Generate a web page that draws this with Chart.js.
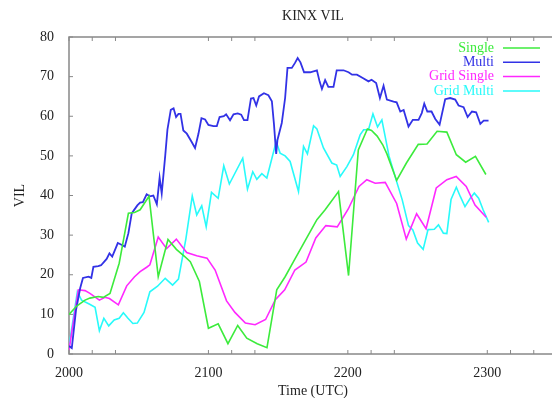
<!DOCTYPE html>
<html>
<head>
<meta charset="utf-8">
<script src="https://cdn.jsdelivr.net/npm/chart.js@4/dist/chart.umd.min.js"></script>
<style>
  body { margin: 0; overflow: hidden; background: #fff; }
</style>
</head>
<body>
<canvas id="vilChart" width="557" height="398"></canvas>
<script>
// time axis (hours as decimal, 2000 = 20:00 UTC)
const xTicks = [2000, 2016.67, 2033.33, 2100, 2116.67, 2133.33, 2200, 2216.67, 2233.33, 2300, 2316.67, 2333.33];

const singleX = [2000, 2005.5, 2011.5, 2015, 2021, 2024.6, 2029.4, 2036, 2042.6, 2047, 2051, 2057.4, 2064, 2071, 2077, 2083, 2087, 2093.5,
  2100, 2107, 2114, 2121, 2127.5, 2135, 2142, 2149, 2155, 2161, 2167, 2173, 2177.8, 2183.7, 2193.3,
  2200.5, 2207.5, 2214, 2217, 2221, 2225, 2228, 2235, 2242, 2250.5, 2256.8, 2264, 2271, 2277.8, 2284.5, 2291.5, 2299];
const singleY = [10, 12.1, 13.6, 14.1, 14.5, 14.3, 15.3, 22.9, 35.5, 35.7, 36.4, 39.8, 19.5, 28.9, 26.4, 24.6, 23.3, 18.3,
  6.5, 7.6, 2.6, 7.2, 4, 2.6, 1.6, 16.2, 19.5, 23.3, 27.1, 30.9, 33.9, 36.4, 41,
  19.8, 51.5, 56.8, 56.4, 55, 52.8, 50.5, 43.8, 48.2, 52.9, 53, 56.2, 56, 50.3, 48.4, 49.9, 45.3];

const multiX = [2000, 2002, 2005, 2008, 2010, 2014, 2016, 2017.5, 2021, 2023, 2027, 2029, 2031, 2033, 2035, 2038, 2040, 2042.6,
  2045, 2047, 2049, 2051, 2053, 2055.7, 2058, 2060.5, 2063, 2065, 2066.5, 2069, 2070.6, 2073, 2075, 2076.8, 2078.5, 2080,
  2082, 2084.5, 2088, 2090.4, 2092.8, 2095, 2097.6, 2100, 2103.6, 2106, 2108, 2111, 2112.7, 2115.5, 2118, 2121, 2123.5,
  2125.5, 2128, 2130.5, 2132.3, 2134.3, 2136.3, 2139.8, 2143, 2145.5, 2147, 2148.6, 2149.5, 2152.6, 2155, 2156.7, 2159.8,
  2162, 2164, 2166, 2168.6, 2173, 2177.8, 2179.7, 2181.4, 2183.7, 2186, 2189.7, 2192, 2196.9, 2200.5, 2203, 2206.5, 2211,
  2214.8, 2217, 2220.3, 2223, 2225.6, 2228, 2232.8, 2235, 2237.6, 2240, 2243.5, 2246.6, 2250.7, 2253, 2254.8, 2257, 2260,
  2262.7, 2265.8, 2269.8, 2273.4, 2277, 2279.4, 2283, 2285.9, 2289, 2292, 2295, 2297.4, 2300.9];
const multiY = [2, 1.5, 11, 16.6, 19.2, 19.5, 19.2, 22, 22.2, 22.4, 24, 25.4, 24.6, 26.3, 28, 27.5, 27.1, 30.5,
  35.5, 36.5, 37.5, 38.2, 38.3, 40.3, 39.8, 40, 37.8, 44.5, 40.5, 50, 56.6, 61.6, 62, 59.8, 60.6, 60.6,
  56.4, 55.6, 53.5, 52, 55.5, 59.5, 59.2, 57.8, 57.5, 57.5, 59.8, 60, 60.5, 59, 60.5, 60.7, 60.4,
  59, 59, 64.5, 64.6, 62.7, 65, 65.8, 65.3, 63.8, 58, 50.5, 54, 58.3, 64.6, 72.2, 72.2,
  73.4, 74.7, 73.6, 71.1, 71.1, 71.6, 68.8, 66.9, 69.1, 67.4, 67.4, 71.6, 71.6, 71.1, 70.5, 70.5, 69.6,
  68.8, 69.2, 68.4, 64.6, 67.7, 64.2, 63.7, 63.5, 61.2, 61.6, 57.4, 59.1, 59.1, 60.8, 63.2, 61.2, 61.2,
  59.3, 57.9, 64.3, 64.6, 64.2, 62.7, 62.3, 59.8, 61.2, 61, 58.1, 58.9, 58.9];

const gridSingleX = [2000, 2006.7, 2011.5, 2015, 2021.8, 2025.8, 2029, 2035.4, 2041.4, 2047, 2051, 2055.7, 2058, 2064, 2070, 2077,
  2084.4, 2091.6, 2099, 2104.8, 2113, 2119, 2126.5, 2133.5, 2141, 2148, 2154.7, 2162, 2170, 2177, 2184.2, 2192.4,
  2200.3, 2208, 2213.6, 2219.6, 2226.8, 2235, 2241.9, 2249.3, 2256.1, 2263.4, 2271, 2277.7, 2284.9, 2291.2, 2299.2];
const gridSingleY = [1, 16.2, 16, 15.3, 13.6, 14.3, 14, 12.4, 17.2, 19.5, 20.8, 21.9, 22.5, 29.5, 26.6, 29,
  25.6, 24.8, 24.2, 21.2, 13.4, 10.5, 7.8, 7.4, 8.7, 13.7, 16.2, 21.2, 23.2, 29.3, 32.4, 32.1,
  36.6, 42.3, 44, 43.1, 43.3, 38, 29, 35.4, 31.6, 41.9, 44, 44.8, 42.3, 37.6, 34.5];

const gridMultiX = [2000, 2006, 2009, 2014.5, 2018.7, 2021.8, 2025, 2028.5, 2032.4, 2036, 2039, 2042.3, 2045.8, 2049, 2053.8, 2058,
  2063.5, 2069, 2074.3, 2078.5, 2083.8, 2088.4, 2091.6, 2095.2, 2098.4, 2102.2, 2107, 2111, 2115, 2124.6, 2128, 2131.8,
  2134.7, 2138.3, 2141.9, 2148.6, 2151.4, 2155, 2158.6, 2164.6, 2168.2, 2171, 2175.4, 2177.8, 2182.5, 2188.5, 2192,
  2194.5, 2199.3, 2204, 2208.8, 2211.3, 2214.8, 2218, 2221.3, 2224.4, 2229.5, 2235, 2239, 2243.5, 2246.6, 2250, 2254,
  2257.5, 2262, 2265, 2268.5, 2271, 2274, 2277.8, 2280.7, 2284, 2287.8, 2290.7, 2293.8, 2297, 2301];
const gridMultiY = [2, 15.7, 13.6, 12.6, 11.8, 5.9, 9, 7.1, 8.6, 9, 10.4, 9, 7.7, 7.8, 10.5, 15.7,
  17.1, 19.1, 17.4, 18.9, 29, 39.9, 35.1, 37.4, 32.1, 40.8, 39.3, 47.5, 42.9, 49.4, 41.6, 46,
  44.1, 45.5, 44.4, 53.6, 50.7, 50, 48.6, 41, 52.4, 50.5, 57.6, 56.8, 52, 48.2, 47.7,
  44.8, 47.3, 50.3, 55.3, 56.6, 56.6, 60.6, 57.3, 59.1, 50, 43.5, 38.9, 32.4, 31.3, 28, 26.4,
  31.4, 31.5, 32.6, 30.5, 30.4, 39, 42.1, 39.7, 37.2, 39.3, 40.6, 39.3, 36.4, 33.2];

const seriesNames = ['Single', 'Multi', 'Grid Single', 'Grid Multi'];
const seriesColors = ['rgb(60,235,60)', 'rgb(50,50,230)', 'rgb(255,40,255)', 'rgb(40,250,250)'];

function toPoints(xs, ys) {
  return xs.map((x, i) => ({ x: x, y: ys[i] }));
}

const allSeries = [
  toPoints(singleX, singleY),
  toPoints(multiX, multiY),
  toPoints(gridSingleX, gridSingleY),
  toPoints(gridMultiX, gridMultiY),
];

const serif = 'Liberation Serif';

// gnuplot-like frame with inward ticks
const framePlugin = {
  id: 'frame',
  beforeDatasetsDraw(chart) {
    const { ctx, chartArea: a, scales } = chart;
    ctx.save();
    ctx.strokeStyle = '#888';
    ctx.lineWidth = 1.5;
    ctx.strokeRect(a.left, a.top, a.right - a.left, a.bottom - a.top);
    ctx.lineWidth = 1;
    ctx.beginPath();
    scales.x.ticks.forEach(t => {
      const px = scales.x.getPixelForValue(t.value);
      ctx.moveTo(px, a.bottom); ctx.lineTo(px, a.bottom - 4);
      ctx.moveTo(px, a.top); ctx.lineTo(px, a.top + 4);
    });
    scales.y.ticks.forEach(t => {
      const py = scales.y.getPixelForValue(t.value);
      ctx.moveTo(a.left, py); ctx.lineTo(a.left + 4, py);
    });
    ctx.stroke();
    ctx.restore();
  }
};

// legend in the top right corner, text left of the line sample
const keyPlugin = {
  id: 'key',
  afterDatasetsDraw(chart) {
    const { ctx, chartArea: a } = chart;
    ctx.save();
    ctx.font = '14px "' + serif + '"';
    ctx.textAlign = 'right';
    ctx.textBaseline = 'middle';
    chart.data.datasets.forEach((ds, i) => {
      const y = a.top + 11 + i * 14.3;
      ctx.fillStyle = ds.borderColor;
      ctx.fillText(ds.label, a.right - 63, y);
      ctx.strokeStyle = ds.borderColor;
      ctx.lineWidth = 1.5;
      ctx.beginPath();
      ctx.moveTo(a.right - 54, y);
      ctx.lineTo(a.right - 17, y);
      ctx.stroke();
    });
    ctx.restore();
  }
};

new Chart(document.getElementById('vilChart'), {
  type: 'line',
  data: {
    datasets: allSeries.map((pts, i) => ({
      label: seriesNames[i],
      data: pts,
      borderColor: seriesColors[i],
      backgroundColor: seriesColors[i],
      borderWidth: i === 1 ? 1.8 : 1.6,
      pointRadius: 0,
      tension: 0,
      fill: false,
    })),
  },
  options: {
    responsive: false,
    animation: false,
    layout: { padding: 0 },
    plugins: {
      legend: { display: false },
      tooltip: { enabled: false },
      title: {
        display: true,
        text: 'KINX VIL',
        fullSize: false,
        color: '#222',
        font: { family: serif, size: 14, weight: 'normal', lineHeight: 1.2 },
        padding: { top: 8, bottom: 12.2 },
      },
    },
    scales: {
      x: {
        type: 'linear',
        min: 2000,
        max: 2350,
        afterBuildTicks: s => { s.ticks = xTicks.map(v => ({ value: v })); },
        afterFit: s => { s.height = 44; },
        grid: { display: false },
        border: { display: false },
        ticks: {
          autoSkip: false,
          maxRotation: 0,
          padding: 3,
          color: '#222',
          font: { family: serif, size: 14 },
          callback: v => (Math.abs(v % 100) < 0.01 ? String(Math.round(v)) : ''),
        },
        title: {
          display: true,
          text: 'Time (UTC)',
          color: '#222',
          font: { family: serif, size: 14, lineHeight: 1 },
          padding: 0,
        },
      },
      y: {
        min: 0,
        max: 80,
        afterFit: s => { s.width = 69; },
        grid: { display: false },
        border: { display: false },
        ticks: {
          stepSize: 10,
          padding: 7,
          color: '#222',
          font: { family: serif, size: 14 },
        },
        title: {
          display: true,
          text: 'VIL',
          color: '#222',
          font: { family: serif, size: 14, lineHeight: 1 },
          padding: { top: 13, bottom: 0 },
        },
      },
    },
  },
  plugins: [framePlugin, keyPlugin],
});
</script>
</body>
</html>
